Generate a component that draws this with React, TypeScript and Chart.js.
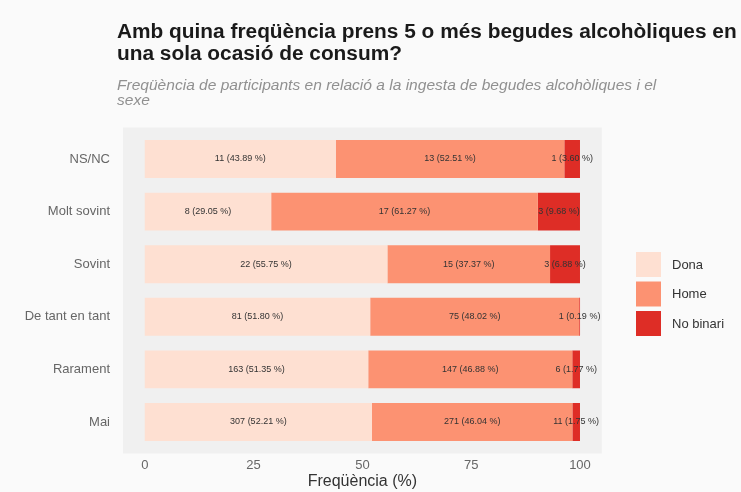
import React, { useEffect, useRef } from "react";
import { Chart, registerables } from "chart.js";

Chart.register(...registerables);

const categories = ["NS/NC", "Molt sovint", "Sovint", "De tant en tant", "Rarament", "Mai"];
const seriesNames = ["Dona", "Home", "No binari"];
const colors = ["#fee0d2", "#fc9272", "#de2d26"];
const donaPct = [43.89, 29.05, 55.75, 51.8, 51.35, 52.21];
const homePct = [52.51, 61.27, 37.37, 48.02, 46.88, 46.04];
const noBinariPct = [3.6, 9.68, 6.88, 0.19, 1.77, 1.75];
const donaN = [11, 8, 22, 81, 163, 307];
const homeN = [13, 17, 15, 75, 147, 271];
const noBinariN = [1, 3, 3, 1, 6, 11];
const xTicks = [0, 25, 50, 75, 100];

const title = ["Amb quina freqüència prens 5 o més begudes alcohòliques en", "una sola ocasió de consum?"];
const subtitle = ["Freqüència de participants en relació a la ingesta de begudes alcohòliques i el", "sexe"];
const xTitle = "Freqüència (%)";

const fmt = (v: number) => v.toFixed(2);
const FAM = "'Liberation Sans', Arial, sans-serif";

export default function App() {
  const ref = useRef<HTMLCanvasElement>(null);
  useEffect(() => {
    document.body.style.margin = "0";
    document.body.style.background = "#fafafa";
    const ctx = ref.current!.getContext("2d")!;
    const pcts = [donaPct, homePct, noBinariPct];
    const ns = [donaN, homeN, noBinariN];

    const decor = {
      id: "decor",
      beforeDraw(chart: any) {
        const c = chart.ctx;
        const { left, right, top, bottom } = chart.chartArea;
        c.save();
        c.fillStyle = "#fafafa";
        c.fillRect(0, 0, chart.width, chart.height);
        const band = (bottom - top) / categories.length;
        c.fillStyle = "#f0f0f0";
        c.fillRect(left, top - band * 0.1, right - left, bottom - top + band * 0.2);
        c.restore();
      },
      afterDraw(chart: any) {
        const c = chart.ctx;
        c.save();
        // title
        c.fillStyle = "#1a1a1a";
        c.textBaseline = "alphabetic";
        c.textAlign = "left";
        c.font = `bold 19px ${FAM}`;
        const w = c.measureText(title[0]).width;
        const fs = 19 * 620 / w;
        c.font = `bold ${fs}px ${FAM}`;
        c.fillText(title[0], 117, 38);
        c.fillText(title[1], 117, 60);
        // subtitle
        c.fillStyle = "#909090";
        c.font = `italic 12px ${FAM}`;
        const w2 = c.measureText(subtitle[0]).width;
        const fs2 = 12 * 540 / w2;
        c.font = `italic ${fs2}px ${FAM}`;
        c.fillText(subtitle[0], 117, 90);
        c.fillText(subtitle[1], 117, 105);
        // data labels
        c.fillStyle = "#333333";
        c.textAlign = "center";
        c.textBaseline = "middle";
        c.font = `9px ${FAM}`;
        chart.data.datasets.forEach((ds: any, di: number) => {
          const meta = chart.getDatasetMeta(di);
          meta.data.forEach((bar: any, i: number) => {
            const x = (bar.x + bar.base) / 2;
            c.fillText(`${ns[di][i]} (${fmt(pcts[di][i])} %)`, x, bar.y);
          });
        });
        // legend
        c.textAlign = "left";
        c.font = `13px ${FAM}`;
        seriesNames.forEach((n, i) => {
          const y = 252 + i * 29.5;
          c.fillStyle = colors[i];
          c.fillRect(636, y, 25, 25);
          c.fillStyle = "#333333";
          c.fillText(n, 672, y + 13);
        });
        c.restore();
      },
    };

    const chart = new Chart(ctx, {
      type: "bar",
      data: {
        labels: categories,
        datasets: seriesNames.map((name, i) => ({
          label: name,
          data: pcts[i],
          backgroundColor: colors[i],
          borderWidth: 0,
          barPercentage: 0.72,
          categoryPercentage: 1,
        })),
      },
      options: {
        indexAxis: "y",
        responsive: false,
        animation: false,
        layout: { padding: { left: 10, top: 132.7, right: 139.25, bottom: 0 } },
        plugins: { legend: { display: false }, tooltip: { enabled: false }, title: { display: false } },
        scales: {
          x: {
            stacked: true,
            min: -5,
            max: 105,
            afterBuildTicks: (s: any) => { s.ticks = xTicks.map((v) => ({ value: v })); },
            afterFit: (s: any) => { s.height = 492 - 448.3; },
            grid: { display: false, drawTicks: false },
            border: { display: false },
            ticks: { color: "#666666", font: { size: 13, family: FAM }, padding: 9 },
            title: { display: true, text: xTitle, color: "#333333", font: { size: 16, family: FAM }, padding: { top: 0, bottom: 1 } },
          },
          y: {
            stacked: true,
            afterFit: (s: any) => { s.width = 113; },
            grid: { display: false, drawTicks: false },
            border: { display: false },
            ticks: { color: "#666666", font: { size: 13, family: FAM }, padding: 13 },
          },
        },
      },
      plugins: [decor],
    } as any);
    return () => chart.destroy();
  }, []);
  return <canvas ref={ref} width={741} height={492} style={{ display: "block" }} />;
}
